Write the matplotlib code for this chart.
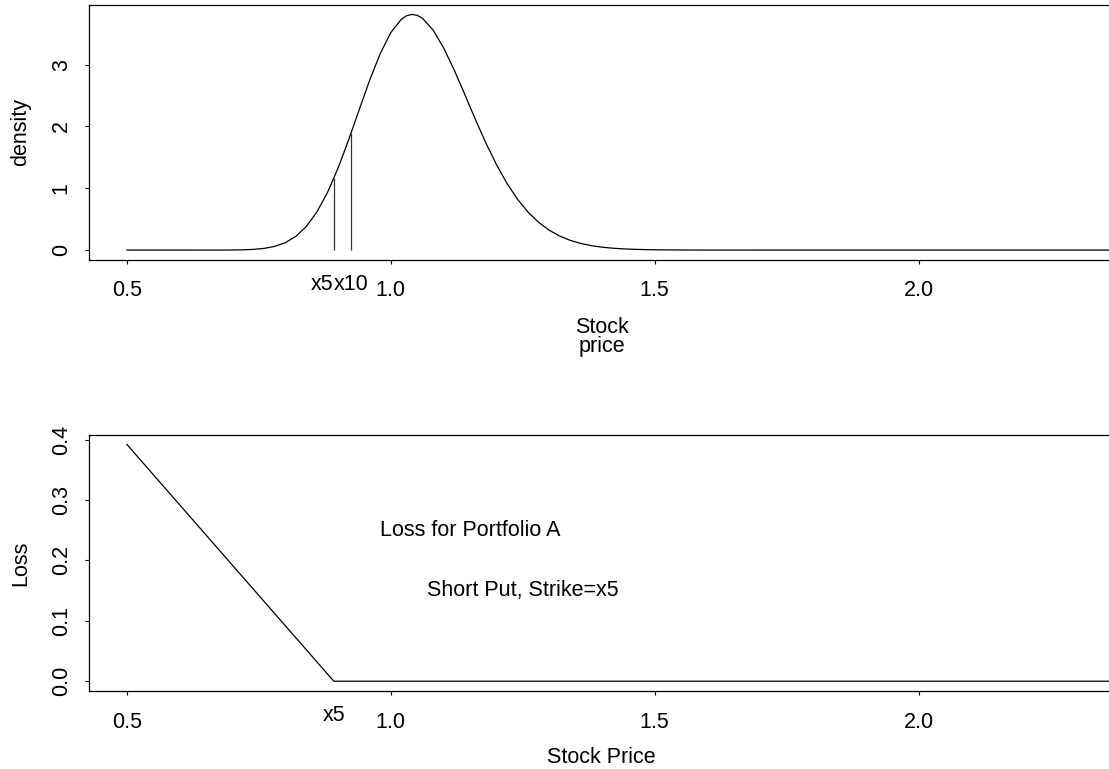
import matplotlib
matplotlib.use("Agg")
import matplotlib.pyplot as plt
import matplotlib.transforms as mtransforms

# Terminal stock price grid and its density
price_grid = [0.50, 0.60, 0.65, 0.68, 0.70, 0.72, 0.74, 0.76, 0.78, 0.80,
              0.82, 0.84, 0.86, 0.88, 0.90, 0.92, 0.94, 0.96, 0.98, 1.00,
              1.02, 1.03, 1.04, 1.05, 1.06, 1.08, 1.10, 1.12, 1.14, 1.16,
              1.18, 1.20, 1.22, 1.24, 1.26, 1.28, 1.30, 1.32, 1.34, 1.36,
              1.38, 1.40, 1.42, 1.44, 1.46, 1.48, 1.50, 1.55, 1.60, 1.70,
              2.50]
density_vals = [0.0, 0.0, 0.0001, 0.0004, 0.0015, 0.0043, 0.0113, 0.0272, 0.0595, 0.1196,
                0.2222, 0.3834, 0.6176, 0.9325, 1.3260, 1.7816, 2.2697, 2.7513, 3.1817, 3.5207,
                3.7369, 3.7932, 3.8138, 3.7992, 3.7508, 3.5621, 3.2729, 2.9148, 2.5202, 2.1189,
                1.7350, 1.3853, 1.0800, 0.8232, 0.6141, 0.4489, 0.3219, 0.2266, 0.1567, 0.1066,
                0.0714, 0.0471, 0.0306, 0.0196, 0.0124, 0.0078, 0.0048, 0.0014, 0.0004, 0.0,
                0.0]

# 5% and 10% quantiles of the price and the density at each
quantile_names = ["x5", "x10"]
quantile_prices = [0.892, 0.925]
quantile_density = [1.16, 1.90]

# Loss of the short put struck at x5
loss_price = [0.50, 0.892, 2.50]
loss_vals = [0.392, 0.0, 0.0]

x_ticks = [0.5, 1.0, 1.5, 2.0]
x_tick_labels = ["0.5", "1.0", "1.5", "2.0"]
top_y_ticks = [0, 1, 2, 3]
bottom_y_ticks = [0.0, 0.1, 0.2, 0.3, 0.4]
bottom_y_labels = ["0.0", "0.1", "0.2", "0.3", "0.4"]

FS = 15.5
plt.rcParams["font.family"] = ["Liberation Sans", "DejaVu Sans"]
plt.rcParams["font.size"] = FS

W, H = 1109, 769
fig = plt.figure(figsize=(W / 100, H / 100), dpi=100)


def px_axes(left, top, right, bottom):
    return fig.add_axes([left / W, 1 - bottom / H, (right - left) / W, (bottom - top) / H])


ax1 = px_axes(88.5, 5, 1115, 259.5)
ax2 = px_axes(88.5, 435, 1115, 690.7)


def r_pad(lo, hi):
    d = (hi - lo) * 0.04
    return lo - d, hi + d


for ax in (ax1, ax2):
    ax.set_xlim(0.4272, 2.372)
    for s in ax.spines.values():
        s.set_linewidth(0.9)
        s.set_color("black")
    ax.tick_params(length=3, width=0.8, color="black", direction="out")
    ax.tick_params(axis="x", pad=12)
    ax.tick_params(axis="y", pad=9)
    ax.set_xticks(x_ticks)
    ax.set_xticklabels(x_tick_labels)

# Upper panel: price density with quantile markers
ax1.plot(price_grid, density_vals, color="black", lw=0.9)
ax1.vlines(quantile_prices, 0, quantile_density, color="#333333", lw=0.9)
ax1.set_ylim(r_pad(0, max(density_vals)))
ax1.set_yticks(top_y_ticks)
ax1.set_yticklabels([str(v) for v in top_y_ticks])
ax1.set_ylabel("density", va="baseline")
ax1.yaxis.set_label_coords((26 - 88.5) / (1115 - 88.5), 0.5)
ax1.set_xlabel("Stock\nprice", linespacing=0.85)
ax1.xaxis.set_label_coords(0.5, (259.5 - 317) / (259.5 - 5))

tr1 = mtransforms.blended_transform_factory(ax1.transData, ax1.transAxes)
ax1.text(quantile_prices[0], -0.058, quantile_names[0], transform=tr1,
         ha="right", va="top", fontsize=FS)
ax1.text(quantile_prices[1], -0.058, quantile_names[1], transform=tr1,
         ha="center", va="top", fontsize=FS)

# Lower panel: loss profile
ax2.plot(loss_price, loss_vals, color="black", lw=0.9)
ax2.set_ylim(r_pad(0, max(loss_vals)))
ax2.set_yticks(bottom_y_ticks)
ax2.set_yticklabels(bottom_y_labels)
ax2.set_ylabel("Loss", va="baseline")
ax2.yaxis.set_label_coords((26 - 88.5) / (1115 - 88.5), 0.5)
ax2.set_xlabel("Stock Price")
ax2.xaxis.set_label_coords(0.5, (690.7 - 747) / (690.7 - 435))
ax2.text(1.15, 0.25, "Loss for Portfolio A", ha="center", va="center", fontsize=FS)
ax2.text(1.25, 0.15, "Short Put, Strike=x5", ha="center", va="center", fontsize=FS)

tr2 = mtransforms.blended_transform_factory(ax2.transData, ax2.transAxes)
ax2.text(loss_price[1], -0.057, "x5", transform=tr2, ha="center", va="top", fontsize=FS)

for ax in (ax1, ax2):
    for lbl in ax.get_yticklabels():
        lbl.set_rotation(90)
        lbl.set_va("center")
        lbl.set_ha("right")

fig.savefig("out.png", dpi=100)
